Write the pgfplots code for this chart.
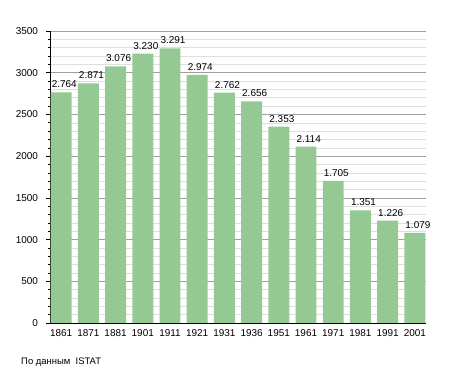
\documentclass[border=0pt]{standalone}
\usepackage{fontspec}
\setmainfont{Liberation Sans}
\usepackage{pgfplots}
\pgfplotsset{compat=1.18}
\definecolor{barg}{RGB}{148,201,148}
\begin{document}
\begin{tikzpicture}
\path[use as bounding box] (0,0) rectangle (455bp,373bp);
\begin{axis}[
  at={(50bp,50bp)}, anchor=south west,
  scale only axis, width=376bp, height=292bp,
  xmin=-0.41, xmax=13.41, ymin=0, ymax=3500,
  axis x line*=bottom, axis y line*=left,
  axis line style={black, line width=0.8pt, -},
  xtick={0,...,13},
  xticklabels={1861,1871,1881,1901,1911,1921,1931,1936,1951,1961,1971,1981,1991,2001},
  x tick style={draw=none},
  ytick={0,500,...,3500},
  minor y tick num=4,
  tick align=outside,
  y tick style={black, line width=0.6pt},
  major tick length=4bp, minor tick length=2.5bp,
  ymajorgrids, yminorgrids,
  major grid style={gray!75, line width=0.6pt},
  minor grid style={gray!25, line width=0.5pt},
  tick label style={font=\fontsize{10}{12}\selectfont},
  /pgf/number format/assume math mode=true,
  /pgf/number format/1000 sep={},
  xticklabel style={yshift=0.5bp},
  yticklabel style={xshift=-4.5bp},
  ybar, bar width=0.77, bar shift=0pt,
  point meta=explicit symbolic,
  nodes near coords={\pgfplotspointmeta},
  nodes near coords style={anchor=south west, xshift=-10.6bp, yshift=3.2bp, inner sep=1bp, font=\fontsize{10}{12}\selectfont, black},
  clip=false,
]
\addplot[fill=barg, draw=none] coordinates {
(0,2764) [2.764]
(1,2871) [2.871]
(2,3076) [3.076]
(3,3230) [3.230]
(4,3291) [3.291]
(5,2974) [2.974]
(6,2762) [2.762]
(7,2656) [2.656]
(8,2353) [2.353]
(9,2114) [2.114]
(10,1705) [1.705]
(11,1351) [1.351]
(12,1226) [1.226]
(13,1079) [1.079]
};
\end{axis}
\node[anchor=west, inner sep=0pt, font=\fontsize{9.5}{11}\selectfont] at (21bp,11bp) {По данным~ ISTAT};
\end{tikzpicture}
\end{document}
